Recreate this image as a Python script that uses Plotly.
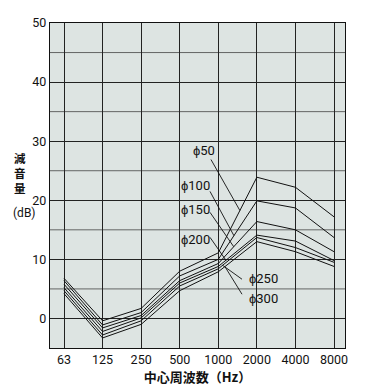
import plotly.graph_objects as go
import numpy as np

freqs = ["63", "125", "250", "500", "1000", "2000", "4000", "8000"]
series_names = ["ϕ50", "ϕ100", "ϕ150", "ϕ200", "ϕ250", "ϕ300"]
phi50 = [6.8, -0.4, 1.7, 8.0, 11.1, 23.9, 22.2, 17.2]
phi100 = [6.4, -1.1, 1.0, 7.2, 10.0, 19.9, 18.7, 13.7]
phi150 = [5.8, -1.6, 0.5, 6.4, 9.3, 16.4, 15.0, 11.3]
phi200 = [5.2, -2.2, 0.1, 6.0, 8.8, 14.1, 13.1, 9.8]
phi250 = [4.7, -2.8, -0.4, 5.5, 8.4, 13.7, 12.0, 9.5]
phi300 = [4.2, -3.3, -1.0, 4.7, 7.9, 13.0, 11.3, 8.8]
all_series = [phi50, phi100, phi150, phi200, phi250, phi300]

y_ticks = [0, 10, 20, 30, 40, 50]

FONT = "Roboto, 'Liberation Sans', sans-serif"
CJK = "'Noto Sans CJK JP', sans-serif"

fig = go.Figure()
for name, vals in zip(series_names, all_series):
    fig.add_trace(go.Scatter(x=list(range(len(freqs))), y=vals, mode="lines",
                             line=dict(color="#111", width=1), name=name,
                             showlegend=False, hoverinfo="skip"))

# label text positions (category index, value) and leader start/end x
labels = [
    (3.62, 28.4, (3.81, 26.9), 4.56),
    (3.40, 22.5, (3.785, 21.5), 4.405),
    (3.40, 18.5, (3.785, 17.96), 4.40),
    (3.40, 13.4, (3.785, 13.73), 4.198),
    (5.17, 6.7, (4.615, 6.64), 4.112),
    (5.17, 3.45, (4.615, 4.10), 4.172),
]
xs = np.arange(len(freqs))
for (tx, ty, (sx, sy), ex), name, vals in zip(labels, series_names, all_series):
    ey = float(np.interp(ex, xs, vals))
    fig.add_shape(type="line", x0=sx, y0=sy, x1=ex, y1=ey, xref="x", yref="y",
                  line=dict(color="#111", width=0.9))
    fig.add_annotation(x=tx, y=ty, xref="x", yref="y", text=name, showarrow=False,
                       font=dict(family=FONT, size=13, color="#111"))

# minor horizontal gridlines
for v in [5, 15, 25, 35, 45]:
    fig.add_shape(type="line", x0=0, x1=1, xref="paper", y0=v, y1=v, yref="y",
                  line=dict(color="#444", width=0.8), layer="below")

fig.add_annotation(x=-0.128, xref="paper", y=24.6, yref="y", text="<b>減<br>音<br>量</b>",
                   showarrow=False, font=dict(family=CJK, size=11.5, color="#111"))
fig.add_annotation(x=-0.132, xref="paper", y=17.9, yref="y", text="(dB)",
                   showarrow=False, font=dict(family=FONT, size=12, color="#111"))

# page body has an 8px margin, so the figure is sized/offset to compensate
fig.update_layout(
    width=365, height=379,
    margin=dict(l=42, r=28, t=15, b=39, autoexpand=False),
    paper_bgcolor="white", plot_bgcolor="#dde4e2",
    xaxis=dict(tickmode="array", tickvals=list(range(len(freqs))), ticktext=freqs,
               range=[-0.363, 7.285], showgrid=True, gridcolor="#222", gridwidth=1,
               zeroline=False, showline=True, linecolor="#111", linewidth=1.2, mirror=True,
               ticks="", automargin=False,
               tickfont=dict(family=FONT, size=12.5, color="#111"),
               title=dict(text="<b>中心周波数（Hz）</b>", font=dict(family=CJK, size=13, color="#111"),
                          standoff=6)),
    yaxis=dict(tickmode="array", tickvals=y_ticks, range=[-5, 50], showgrid=True,
               gridcolor="#222", gridwidth=1, zeroline=False, showline=True,
               linecolor="#111", linewidth=1.2, mirror=True, ticks="", automargin=False,
               tickfont=dict(family=FONT, size=12.5, color="#111")),
)

fig.write_html("out.html")
